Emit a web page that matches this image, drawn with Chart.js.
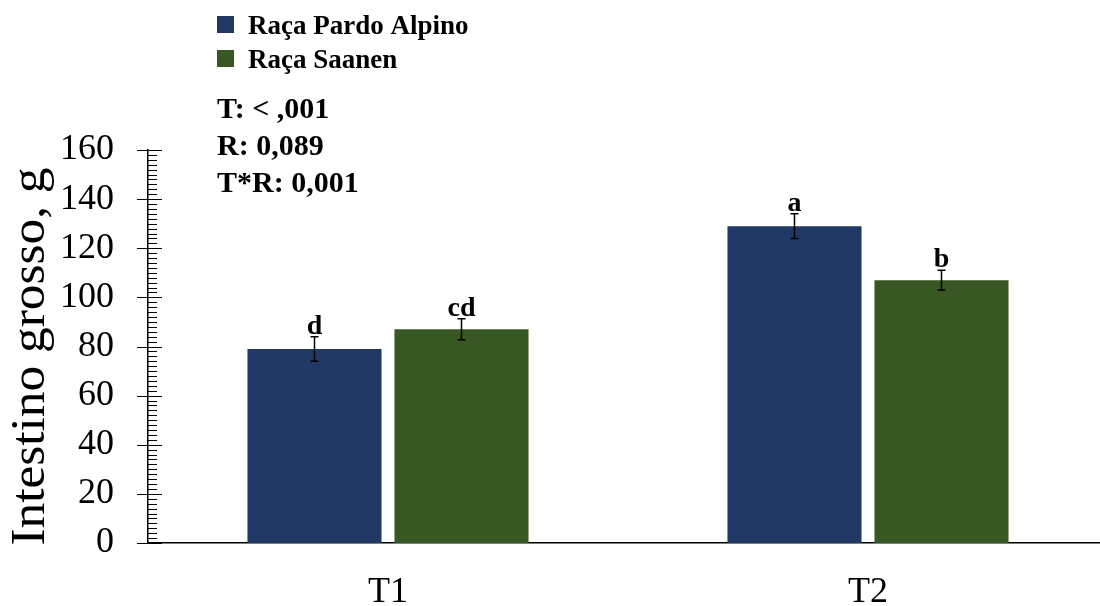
<!DOCTYPE html>
<html>
<head>
<meta charset="utf-8">
<script src="https://cdn.jsdelivr.net/npm/chart.js@4.4.0/dist/chart.umd.min.js"></script>
<style>
  html, body { margin: 0; padding: 0; background: #fff; overflow: hidden; }
  #wrap { width: 1108px; height: 606px; position: relative; }
</style>
</head>
<body>
<div id="wrap"><canvas id="chart"></canvas></div>
<script>
// --- Dados ---
const categories = ['T1', 'T2'];
const seriesNames = ['Raça Pardo Alpino', 'Raça Saanen'];
const pardoAlpino = [79, 129];
const saanen = [87, 107];
const pardoAlpinoErr = [5, 5];
const saanenErr = [4.3, 4];
const pardoAlpinoLetters = ['d', 'a'];
const saanenLetters = ['cd', 'b'];
const statsLines = ['T: < ,001', 'R: 0,089', 'T*R: 0,001'];
const yTitle = 'Intestino grosso, g';

const colors = ['#1f3864', '#385723'];
const serif = "'Liberation Serif', 'Times New Roman', serif";

// barras de erro, letras, ticks menores, título do eixo e legenda
const extras = {
    id: 'extras',
    afterDatasetsDraw(chart) {
        const ctx = chart.ctx;
        const y = chart.scales.y;
        const area = chart.chartArea;
        const errs = [pardoAlpinoErr, saanenErr];
        const letters = [pardoAlpinoLetters, saanenLetters];
        ctx.save();

        // barras de erro + letras de significância
        chart.data.datasets.forEach((ds, di) => {
            const meta = chart.getDatasetMeta(di);
            meta.data.forEach((bar, i) => {
                const v = ds.data[i];
                const e = errs[di][i];
                const yTop = y.getPixelForValue(v + e);
                const yBot = y.getPixelForValue(v - e);
                ctx.strokeStyle = '#000';
                ctx.lineWidth = 1.5;
                ctx.beginPath();
                ctx.moveTo(bar.x, yTop); ctx.lineTo(bar.x, yBot);
                ctx.moveTo(bar.x - 4, yTop); ctx.lineTo(bar.x + 4, yTop);
                ctx.moveTo(bar.x - 4, yBot); ctx.lineTo(bar.x + 4, yBot);
                ctx.stroke();
                ctx.fillStyle = '#000';
                ctx.font = 'bold 28px ' + serif;
                ctx.textAlign = 'center';
                ctx.textBaseline = 'alphabetic';
                ctx.fillText(letters[di][i], bar.x, yTop - 3);
            });
        });

        // ticks do eixo y (maiores cruzando o eixo, menores a cada 2)
        ctx.strokeStyle = '#000';
        ctx.lineWidth = 1.2;
        ctx.beginPath();
        for (let v = y.min; v <= y.max; v += 2) {
            const py = Math.round(y.getPixelForValue(v)) + 0.5;
            if (v % 20 === 0) {
                ctx.moveTo(area.left - 11, py); ctx.lineTo(area.left + 14, py);
            } else {
                ctx.moveTo(area.left, py); ctx.lineTo(area.left + 9, py);
            }
        }
        ctx.stroke();

        // título do eixo y (levemente esticado como no original)
        ctx.save();
        ctx.translate(44, (area.top + area.bottom) / 2 + 10);
        ctx.rotate(-Math.PI / 2);
        ctx.scale(1.07, 1);
        ctx.fillStyle = '#000';
        ctx.font = '48px ' + serif;
        ctx.textAlign = 'center';
        ctx.textBaseline = 'alphabetic';
        ctx.fillText(yTitle, 0, 0);
        ctx.restore();

        // legenda
        ctx.textAlign = 'left';
        ctx.textBaseline = 'alphabetic';
        ctx.font = 'bold 27px ' + serif;
        seriesNames.forEach((name, i) => {
            const top = 16 + i * 34;
            ctx.fillStyle = colors[i];
            ctx.fillRect(217, top, 17, 17);
            ctx.fillStyle = '#000';
            ctx.fillText(name, 248, top + 18);
        });

        // estatísticas
        ctx.font = 'bold 30px ' + serif;
        statsLines.forEach((line, i) => {
            ctx.fillText(line, 217, 118 + i * 37);
        });
        ctx.restore();
    }
};

new Chart(document.getElementById('chart').getContext('2d'), {
    type: 'bar',
    data: {
        labels: categories,
        datasets: [
            { label: seriesNames[0], data: pardoAlpino, backgroundColor: colors[0], borderWidth: 0,
              categoryPercentage: 0.6125, barPercentage: 0.912 },
            { label: seriesNames[1], data: saanen, backgroundColor: colors[1], borderWidth: 0,
              categoryPercentage: 0.6125, barPercentage: 0.912 }
        ]
    },
    options: {
        responsive: true,
        maintainAspectRatio: false,
        animation: false,
        layout: { padding: { top: 150, right: 0, left: 0, bottom: 0 } },
        plugins: { legend: { display: false }, tooltip: { enabled: false } },
        scales: {
            x: {
                grid: { display: false },
                border: { display: true, color: '#000', width: 1.5 },
                ticks: { color: '#000', font: { family: serif, size: 36 }, padding: 20 },
                afterFit: s => { s.height = 63; }
            },
            y: {
                min: 0, max: 160,
                grid: { display: false },
                border: { display: true, color: '#000', width: 1.5 },
                ticks: { stepSize: 20, color: '#000', font: { family: serif, size: 36 }, padding: 26 },
                afterFit: s => { s.width = 148; }
            }
        }
    },
    plugins: [extras]
});
</script>
</body>
</html>
